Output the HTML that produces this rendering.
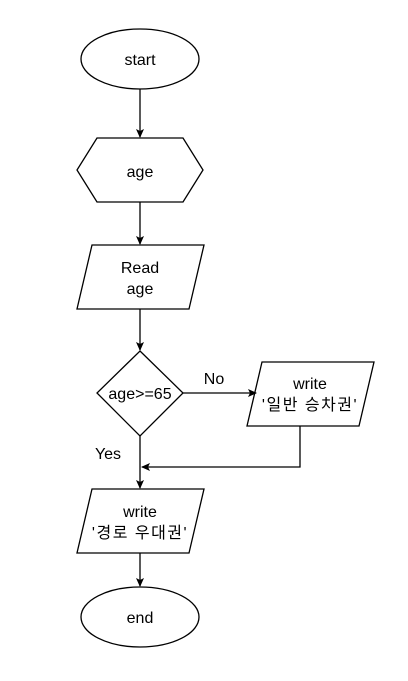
<!DOCTYPE html>
<html><head><meta charset="utf-8"><style>body{margin:0;background:#fff}svg{display:block}</style></head>
<body>
<svg width="408" height="681" xmlns="http://www.w3.org/2000/svg" font-family="'Liberation Sans','Noto Sans CJK KR',sans-serif" font-size="16">
<defs><marker id="a" markerWidth="10" markerHeight="10" refX="8" refY="5" orient="auto" markerUnits="userSpaceOnUse"><path d="M0,1 L9,5 L0,9 L2,5 Z" fill="#000"/></marker></defs>
<g fill="#fff" stroke="#000" stroke-width="1.3">
<ellipse cx="140" cy="59" rx="59" ry="30"/>
<polygon points="97,138 183,138 203,170 183,202 97,202 77,170"/>
<polygon points="92,245 204,245 189,309 77,309"/>
<polygon points="140,351 183,393 140,436 97,393"/>
<polygon points="262,362 374,362 359,426 247,426"/>
<polygon points="92,489 204,489 189,553 77,553"/>
<ellipse cx="140" cy="617" rx="59" ry="30"/>
</g>
<g stroke="#000" stroke-width="1.3" fill="none" marker-end="url(#a)">
<line x1="140" y1="89" x2="140" y2="137"/>
<line x1="140" y1="202" x2="140" y2="244"/>
<line x1="140" y1="309" x2="140" y2="350"/>
<line x1="183" y1="393" x2="256" y2="393"/>
<line x1="140" y1="436" x2="140" y2="488"/>
<polyline points="300,426 300,467 142,467"/>
<line x1="140" y1="553" x2="140" y2="586"/>
</g>
<g text-anchor="middle" fill="#000">
<text x="140" y="65">start</text>
<text x="140" y="177">age</text>
<text x="140" y="273">Read</text>
<text x="140" y="294">age</text>
<text x="140" y="399">age&gt;=65</text>
<text x="214" y="384">No</text>
<text x="310" y="389">write</text>
<text x="310" y="410" letter-spacing="1.5">'일반 승차권'</text>
<text x="108" y="459">Yes</text>
<text x="140" y="517">write</text>
<text x="140" y="538" letter-spacing="1.5">'경로 우대권'</text>
<text x="140" y="623">end</text>
</g>
</svg>
</body></html>
